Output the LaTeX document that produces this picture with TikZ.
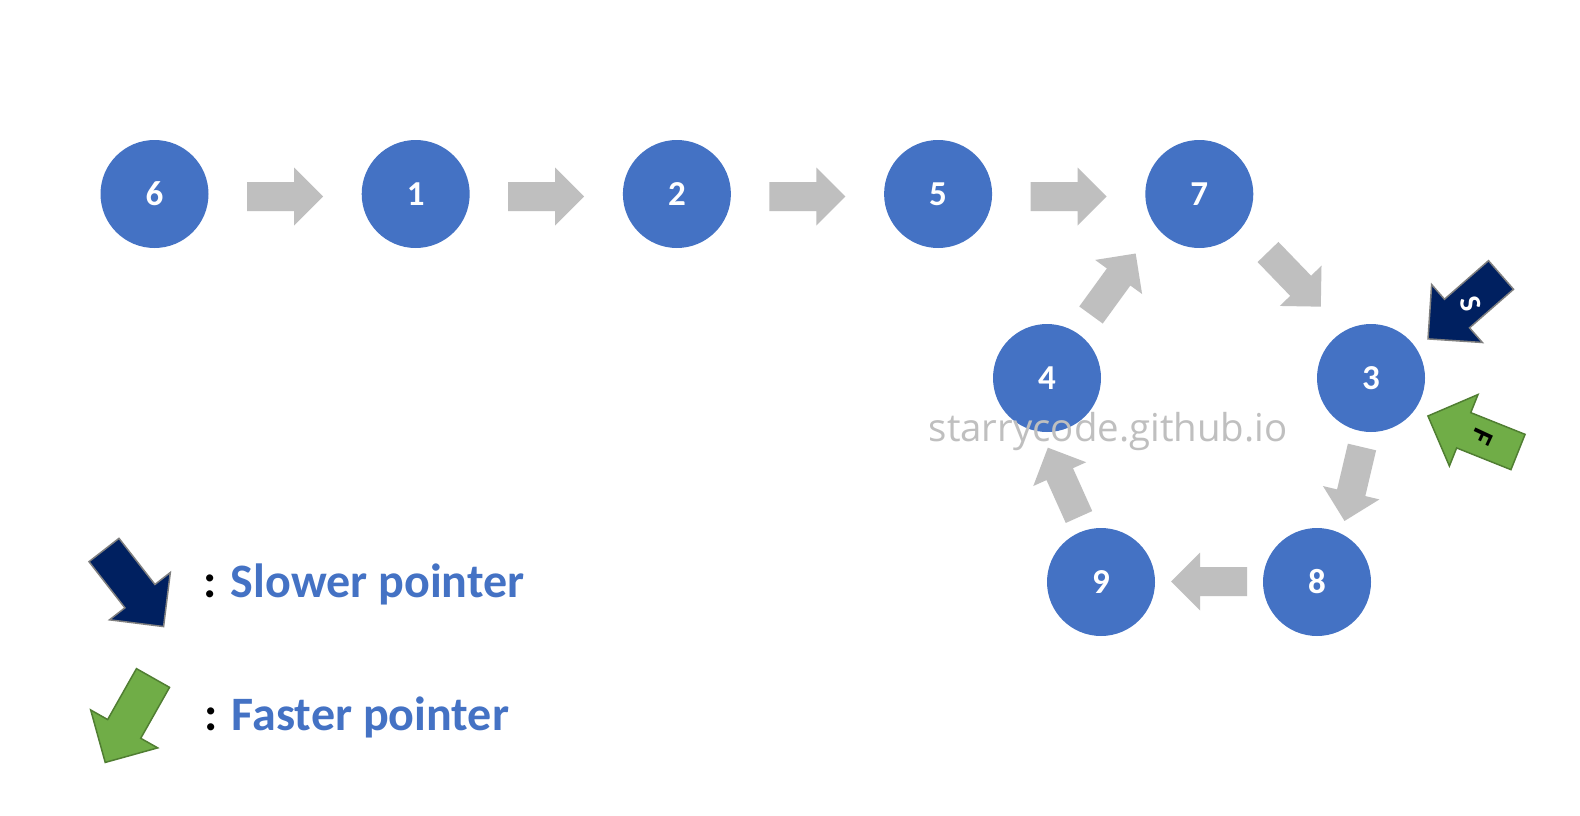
\documentclass[tikz,border=0pt]{standalone}
\usepackage{fontspec}
\setmainfont{Carlito}
\newfontfamily\wmfont{Open Sans}
\definecolor{nodeblue}{HTML}{4472C4}
\definecolor{arrgray}{HTML}{BFBFBF}
\definecolor{navyptr}{HTML}{002060}
\definecolor{navyedge}{HTML}{7F7F7F}
\definecolor{greenptr}{HTML}{70AD47}
\definecolor{greenedge}{HTML}{507E32}
\definecolor{wmgray}{HTML}{BFBFBF}
\tikzset{
  llnode/.style={circle, fill=nodeblue, minimum size=108pt, inner sep=0pt,
    text=white, font=\fontsize{35}{35}\selectfont\bfseries},
  grayarrow/.pic={\fill[arrgray] (0,-14.5) -- (47,-14.5) -- (47,-29) -- (76,0)
    -- (47,29) -- (47,14.5) -- (0,14.5) -- cycle;},
  ptrarrow/.pic={\path[pic actions] (0,-19) -- (58.5,-19) -- (58.5,-38.5) -- (97,0)
    -- (58.5,38.5) -- (58.5,19) -- (0,19) -- cycle;},
  slowptr/.style={fill=navyptr, draw=navyedge, line width=1.5pt, line join=miter},
  fastptr/.style={fill=greenptr, draw=greenedge, line width=1.5pt, line join=miter},
  ptrlabel/.style={font=\fontsize{30}{30}\selectfont\bfseries, inner sep=0pt},
  legendtext/.style={anchor=base west, inner sep=0pt, text=nodeblue,
    font=\fontsize{48}{48}\selectfont\bfseries},
}
\begin{document}
\begin{tikzpicture}[x=1pt, y=-1pt]
\useasboundingbox[fill=white] (0,0) rectangle (1580,816);

% arrow tails
\coordinate (a61) at (247,196.5);
\coordinate (a12) at (508.2,196.5);
\coordinate (a25) at (769.4,196.5);
\coordinate (a57) at (1030.6,196.5);
\coordinate (a73) at (1268,252);
\coordinate (a38) at (1362,447);
\coordinate (a89) at (1247,581.5);
\coordinate (a94) at (1079,517);
\coordinate (a47) at (1091,315);

\pic at (a61) {grayarrow};
\pic at (a12) {grayarrow};
\pic at (a25) {grayarrow};
\pic at (a57) {grayarrow};
\pic[rotate=-46] at (a73) {grayarrow};
\pic[rotate=-103.3] at (a38) {grayarrow};
\pic[rotate=180] at (a89) {grayarrow};
\pic[rotate=114.2] at (a94) {grayarrow};
\pic[rotate=54] at (a47) {grayarrow};

% nodes
\node[llnode] (n6) at (154.5,194) {6};
\node[llnode] (n1) at (415.7,194) {1};
\node[llnode] (n2) at (676.9,194) {2};
\node[llnode] (n5) at (938.1,194) {5};
\node[llnode] (n7) at (1199.3,194) {7};
\node[llnode] (n4) at (1047,378) {4};
\node[llnode] (n3) at (1371,378) {3};
\node[llnode] (n9) at (1101,582) {9};
\node[llnode] (n8) at (1317,582) {8};

% pointers at node 3
\coordinate (ps) at (1501,275);
\coordinate (pf) at (1518,452);
\pic[slowptr, rotate=-138.8] at (ps) {ptrarrow};
\pic[fastptr, rotate=158.2] at (pf) {ptrarrow};
\node[ptrlabel, text=white, rotate=-75] (slbl) at (1471,304) {S};
\node[ptrlabel, text=black, rotate=-115] (flbl) at (1482,437) {F};

% legend
\coordinate (ls) at (104,550);
\coordinate (lf) at (153,678);
\pic[slowptr, rotate=-52.1] at (ls) {ptrarrow};
\pic[fastptr, rotate=-119.5] at (lf) {ptrarrow};
\node[legendtext] (lslow) at (203,597) {\textcolor{black}{:} Slower pointer};
\node[legendtext] (lfast) at (204,730) {\textcolor{black}{:} Faster pointer};

% watermark
\node[anchor=base west, inner sep=0pt, text=wmgray,
  font=\wmfont\fontsize{38.4}{38.4}\selectfont] (wm) at (928.5,441.5) {starrycode.github.io};
\end{tikzpicture}
\end{document}
